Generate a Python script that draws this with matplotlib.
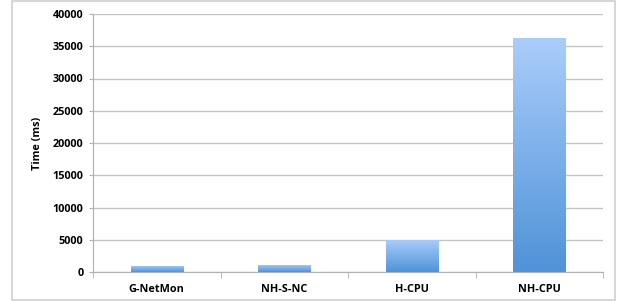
import numpy as np
import matplotlib
matplotlib.use('Agg')
import matplotlib.pyplot as plt
from matplotlib.colors import LinearSegmentedColormap
from matplotlib.patches import Rectangle

# ---------- data ----------
categories = ['G-NetMon', 'NH-S-NC', 'H-CPU', 'NH-CPU']
times_ms = [950, 1150, 5000, 36300]
y_ticks = [0, 5000, 10000, 15000, 20000, 25000, 30000, 35000, 40000]

plt.rcParams['font.family'] = ['Open Sans', 'DejaVu Sans']

fig = plt.figure(figsize=(6.22, 3.01), dpi=100)
ax = fig.add_axes([93 / 622, 29 / 301, 510 / 622, 258 / 301])

# chart area border
fig.patches.append(Rectangle((12 / 622, 1 / 301), 603 / 622, 299 / 301,
                             transform=fig.transFigure, fill=False,
                             edgecolor='#d0d0d0', linewidth=1.2))

x = np.arange(len(categories))
bars = ax.bar(x, times_ms, width=0.41, color='none', edgecolor='none', zorder=3)

# vertical gradient inside each bar, light on top
cmap = LinearSegmentedColormap.from_list('bar', ['#4f93d8', '#abcdfb'])
grad = np.linspace(0, 1, 256).reshape(-1, 1)
for b in bars:
    x0, w, h = b.get_x(), b.get_width(), b.get_height()
    im = ax.imshow(grad, cmap=cmap, origin='lower', aspect='auto',
                   extent=[x0, x0 + w, 0, h], zorder=3)
    im.set_clip_path(b)

ax.set_xlim(-0.5, len(categories) - 0.5)
ax.set_ylim(0, 40000)
ax.set_yticks(y_ticks)
ax.set_yticklabels([str(t) for t in y_ticks], fontsize=7.8, fontweight='bold')
ax.set_xticks(x)
ax.set_xticklabels(categories, fontsize=7.8, fontweight='bold')
ax.tick_params(axis='x', length=0, pad=9)
ax.tick_params(axis='y', length=3, color='#b0b0b0', pad=4)

# category boundary ticks under the axis
ax.set_xticks(np.arange(-0.5, len(categories)), minor=True)
ax.tick_params(axis='x', which='minor', length=4, color='#b0b0b0')

ax.yaxis.grid(True, color='#c4c4c4', linewidth=1.0, zorder=0)
ax.set_axisbelow(True)
for s in ['top', 'right']:
    ax.spines[s].set_visible(False)
ax.spines['left'].set_color('#b0b0b0')
ax.spines['bottom'].set_color('#b0b0b0')

ax.set_ylabel('Time (ms)', fontsize=7.8, fontweight='bold')
ax.yaxis.set_label_coords(-0.098, 0.5)

fig.savefig('out.png', dpi=100)
